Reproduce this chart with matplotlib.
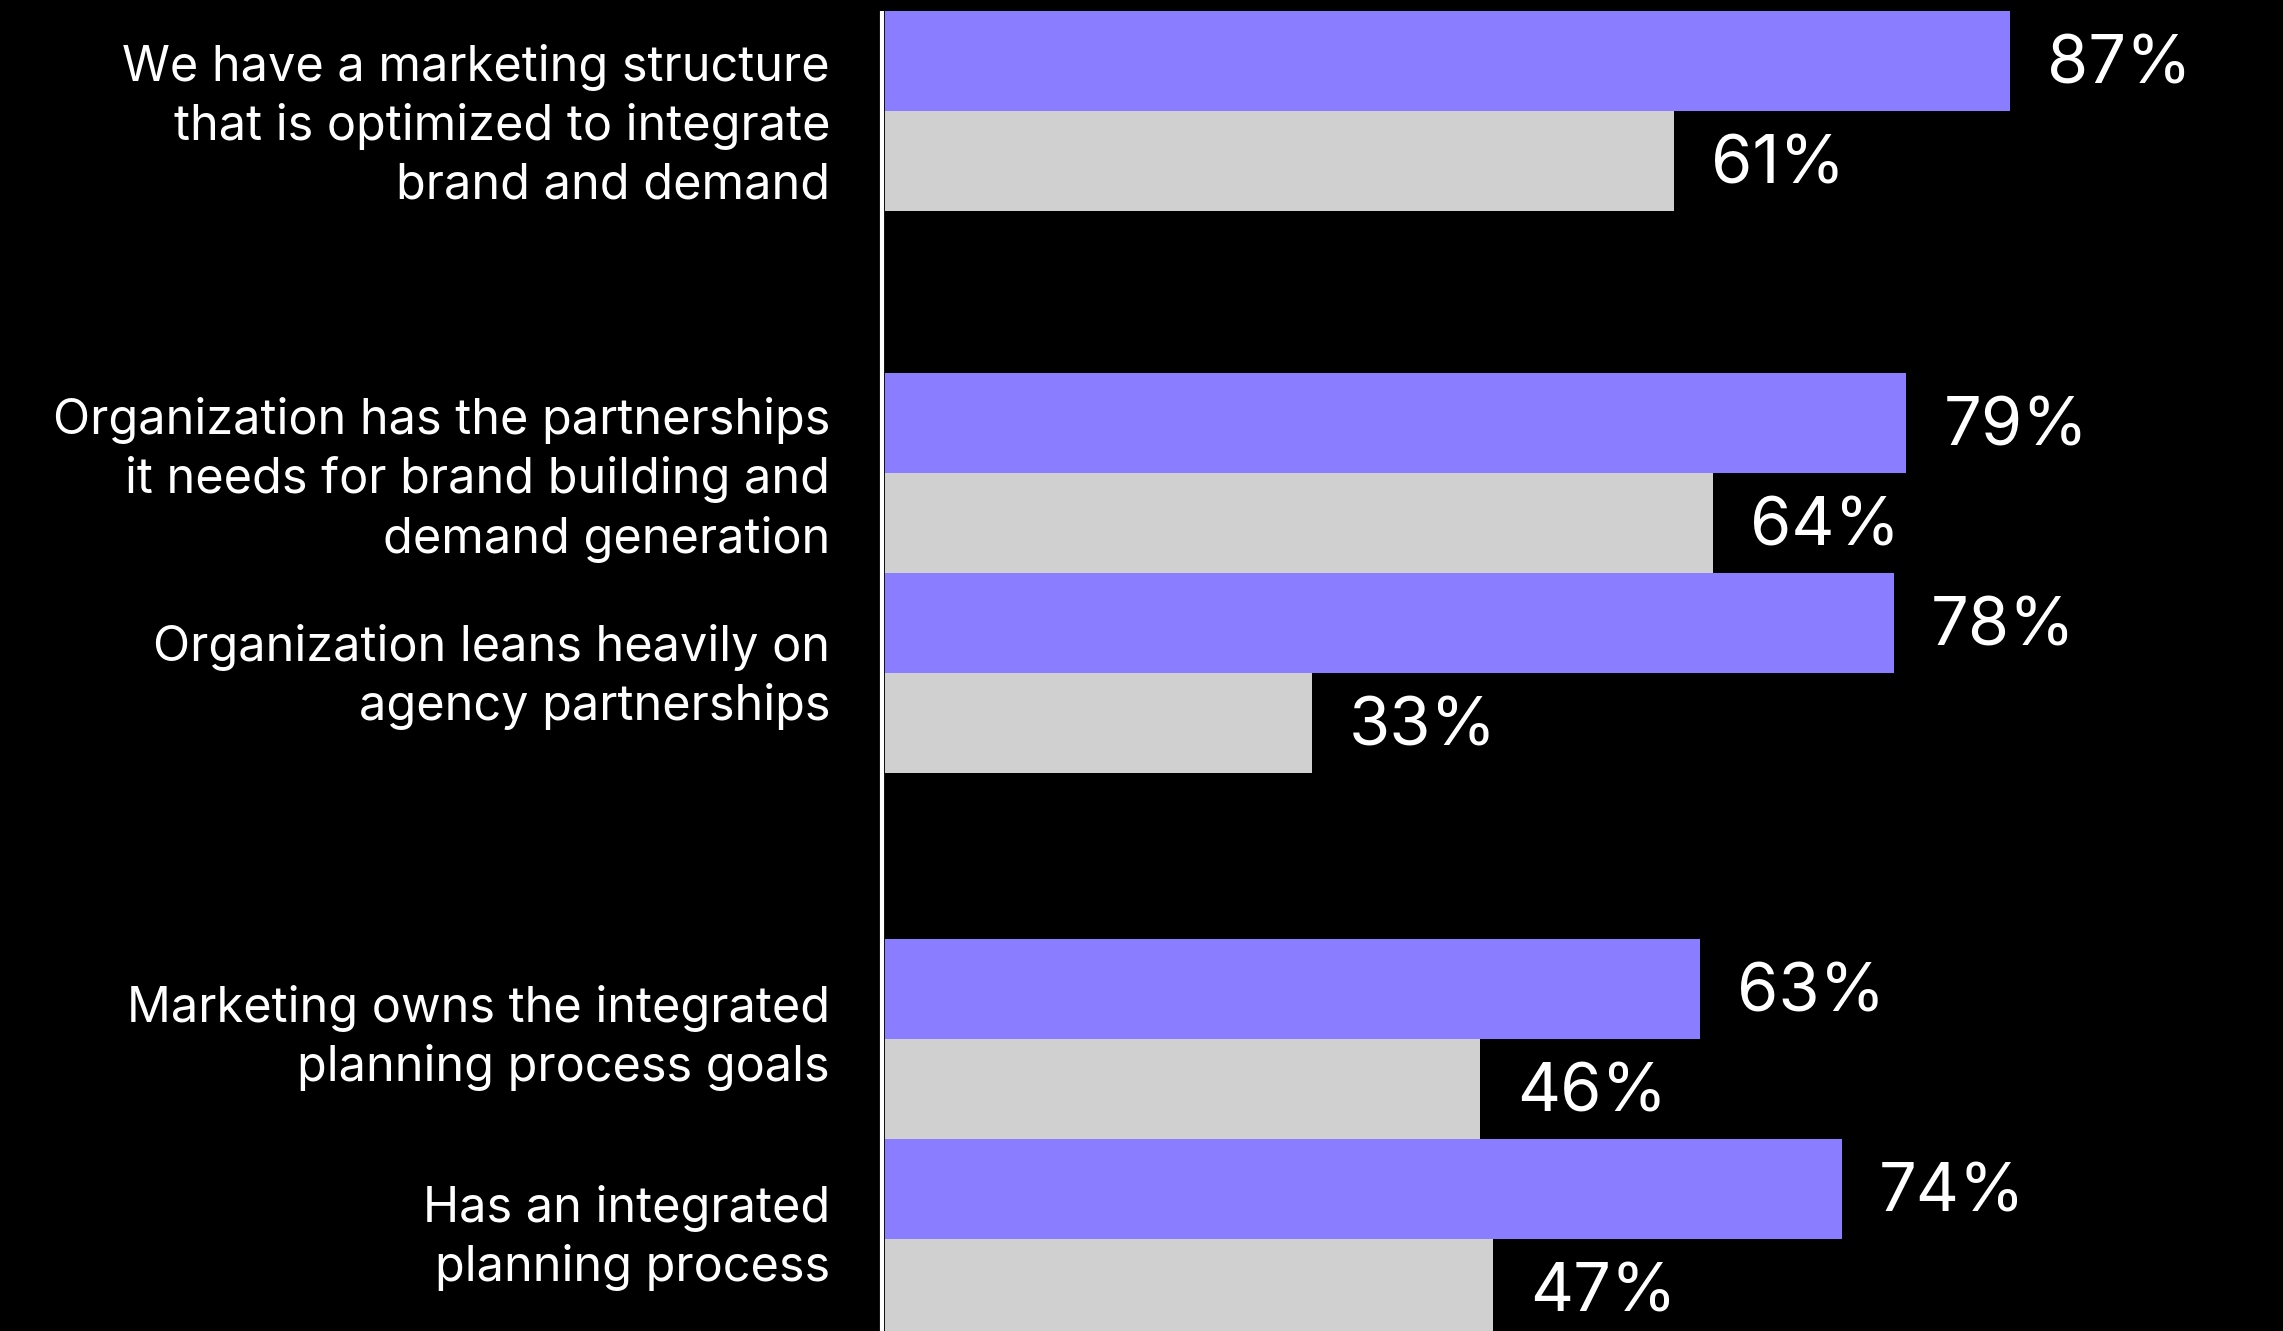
import matplotlib.pyplot as plt

# Survey data: share agreeing, two respondent groups
categories = [
    "We have a marketing structure\nthat is optimized to integrate\nbrand and demand",
    "Organization has the partnerships\nit needs for brand building and\ndemand generation",
    "Organization leans heavily on\nagency partnerships",
    "Marketing owns the integrated\nplanning process goals",
    "Has an integrated\nplanning process",
]
leaders = [87, 79, 78, 63, 74]
others = [61, 64, 33, 46, 47]

PURPLE = "#8A7DFF"
GRAY = "#D0D0D0"

plt.rcParams["font.family"] = ["Inter", "DejaVu Sans"]

W, H, DPI = 2283, 1331, 100
x0 = 885          # pixel where bars start
px_per_pct = 12.93

fig = plt.figure(figsize=(W / DPI, H / DPI), dpi=DPI, facecolor="black")
ax = fig.add_axes([0, 0, 1, 1])
ax.set_facecolor("black")
ax.set_xlim(-x0 / px_per_pct, (W - x0) / px_per_pct)
ax.set_ylim(H / 100, 0)
ax.axis("off")

# extra space above each group and label centre within group (bar heights)
gap_before = [0.11, 1.62, 0.0, 1.66, 0.0]
label_mid = [1.15, 1.07, 1.04, 0.99, 0.99]

top = 0
for i, cat in enumerate(categories):
    top += gap_before[i]
    y1 = top + 0.5
    y2 = top + 1.5
    ax.barh(y1, leaders[i], height=1.0, color=PURPLE, left=0)
    ax.barh(y2, others[i], height=1.0, color=GRAY, left=0)
    ax.text(leaders[i] + 37 / px_per_pct, y1 - 0.02, f"{leaders[i]}%", color="white",
            fontsize=48, fontweight="normal", va="center_baseline", ha="left")
    ax.text(others[i] + 37 / px_per_pct, y2 - 0.02, f"{others[i]}%", color="white",
            fontsize=48, fontweight="normal", va="center_baseline", ha="left")
    ax.text(-55 / px_per_pct, top + label_mid[i], cat, color="white", fontsize=35,
            fontweight="normal", ha="right", va="center", multialignment="right",
            linespacing=1.33)
    top += 2

# vertical baseline
ax.plot([-3.5 / px_per_pct, -3.5 / px_per_pct], [0.11, H / 100], color="white",
        linewidth=3.0, solid_capstyle="butt")

fig.savefig("out.png", dpi=DPI, facecolor="black")
